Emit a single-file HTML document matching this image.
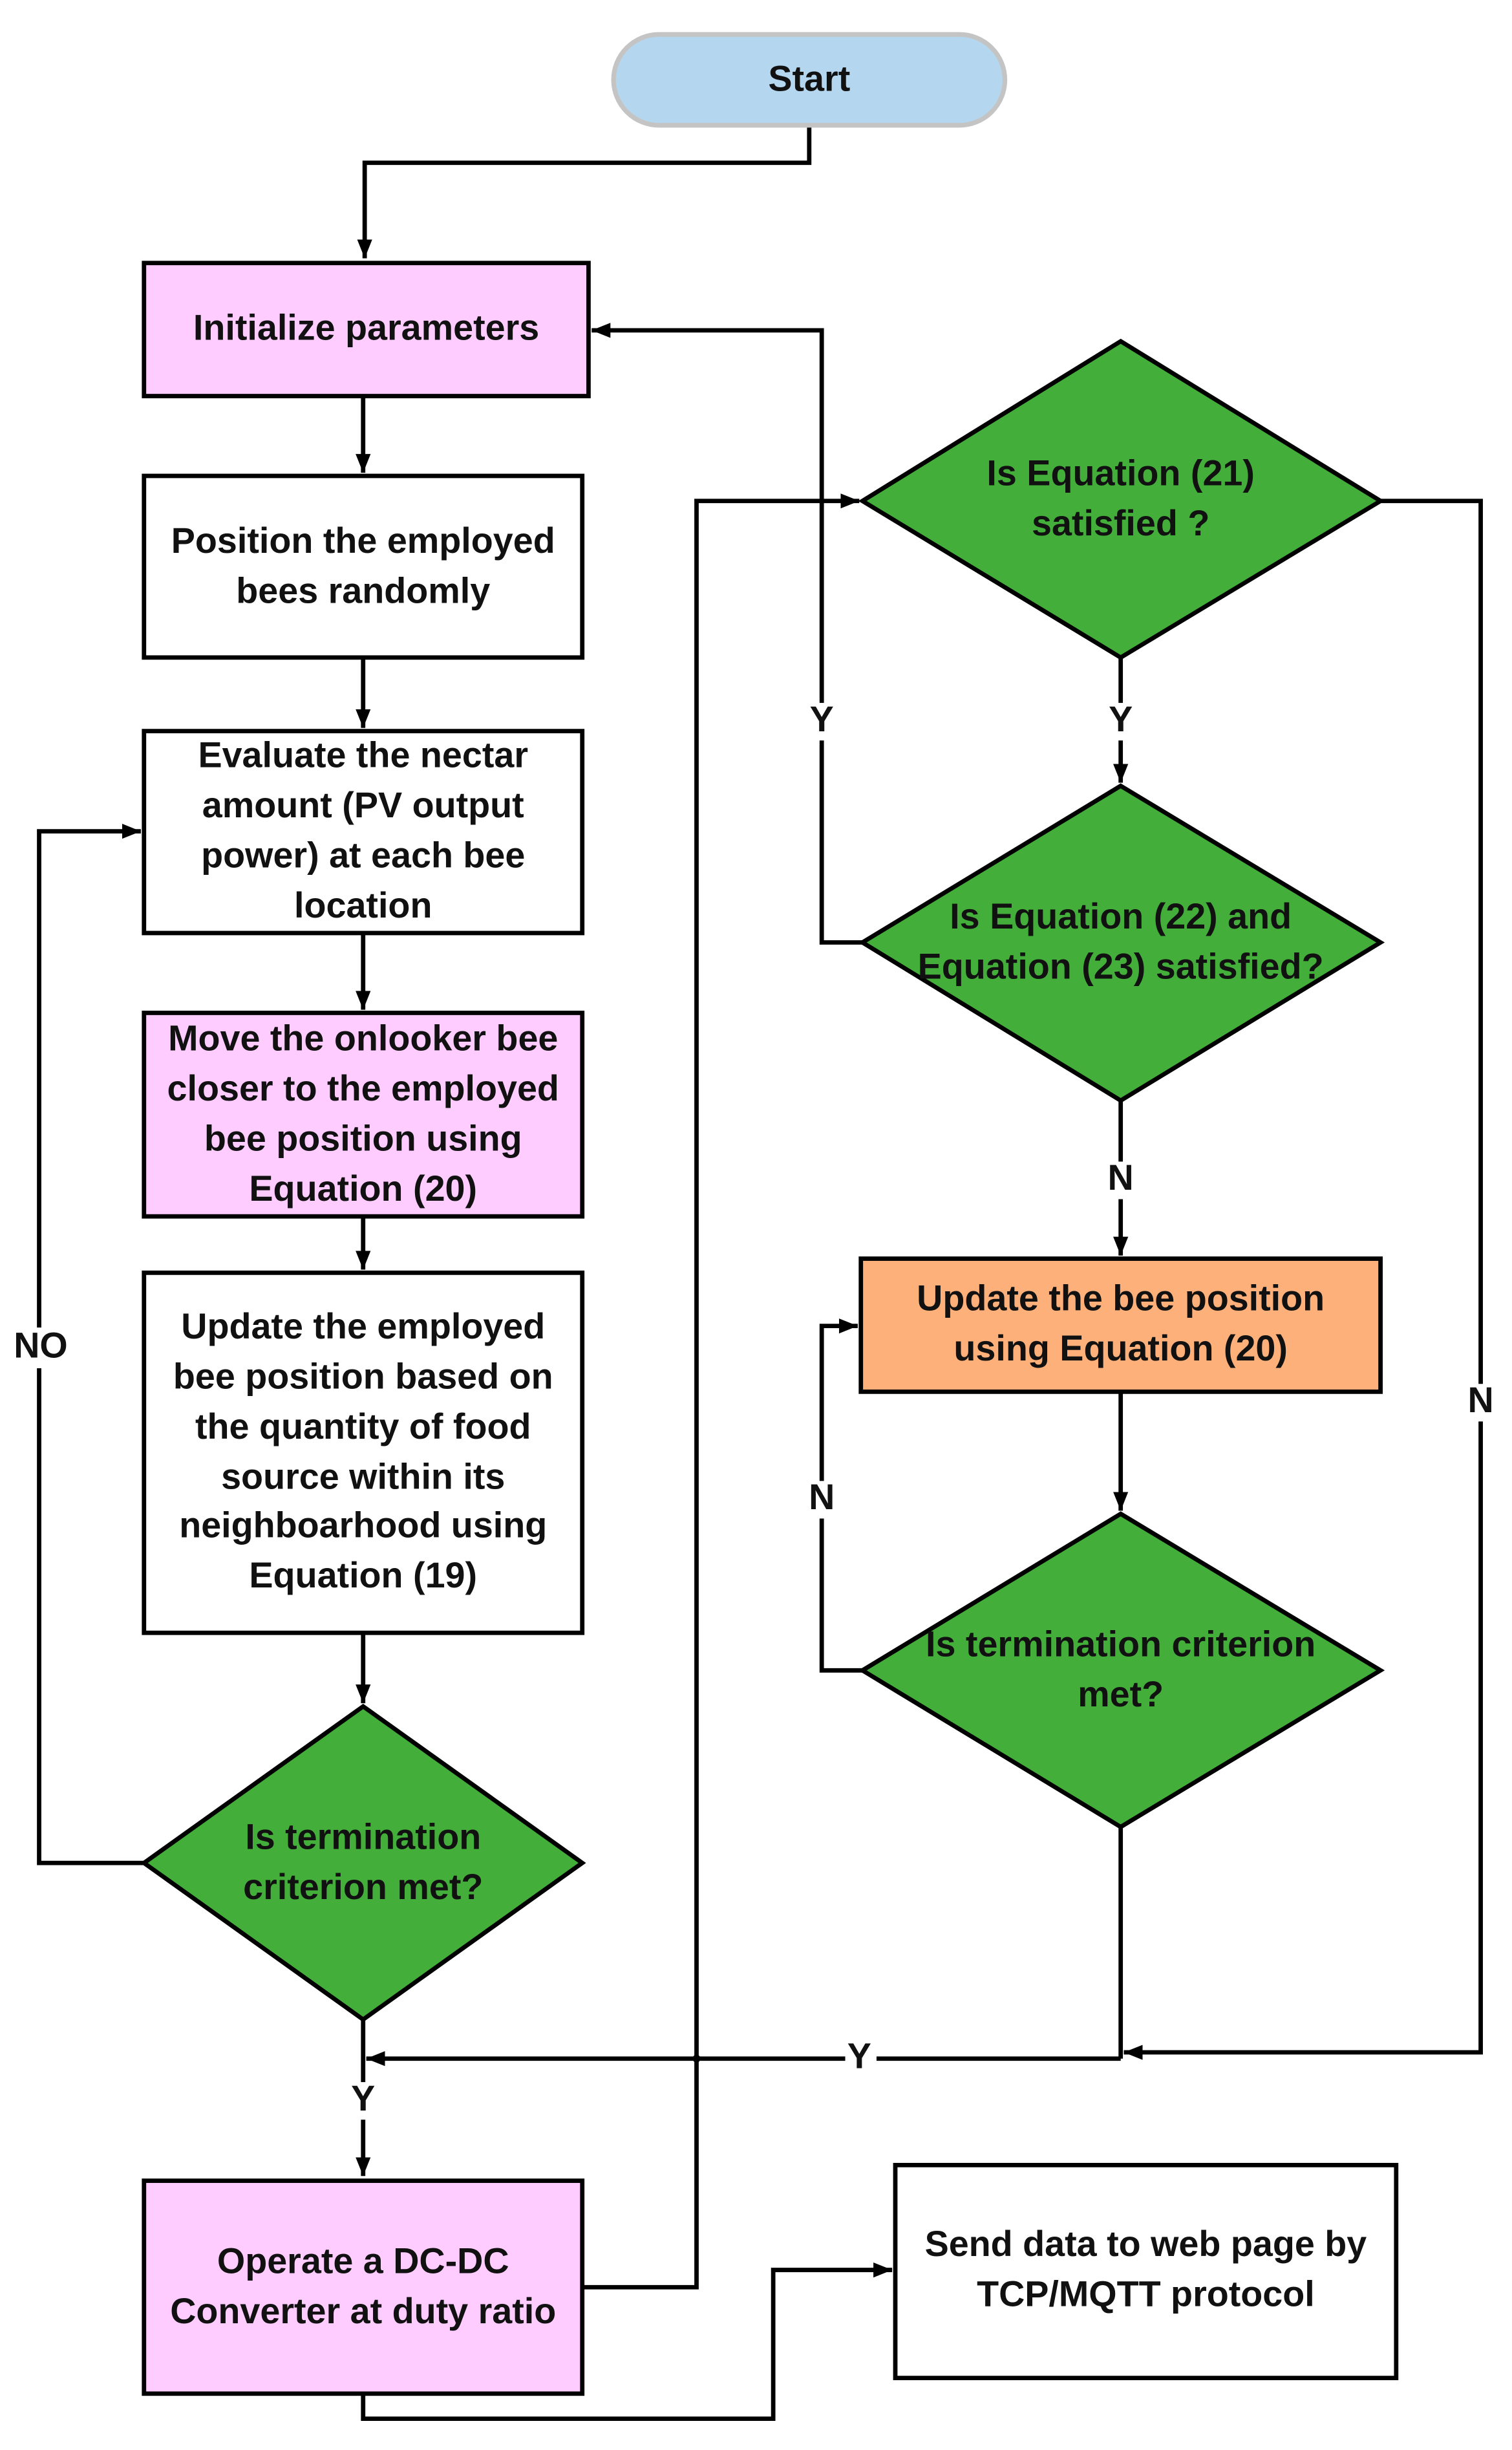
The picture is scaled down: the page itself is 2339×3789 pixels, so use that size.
<!DOCTYPE html>
<html><head><meta charset="utf-8"><style>
html,body{margin:0;padding:0;background:#fff;}
svg{display:block;}
text{font-family:"Liberation Sans",sans-serif;font-weight:bold;font-size:23px;fill:#111;text-anchor:middle;dominant-baseline:middle;}
</style></head><body>
<svg width="2339" height="3789" viewBox="0 0 966 1565" preserveAspectRatio="none" xmlns="http://www.w3.org/2000/svg">
<defs>
<marker id="b" viewBox="0 0 10 10" refX="10" refY="5" markerWidth="12" markerHeight="12" orient="auto" markerUnits="userSpaceOnUse">
<path d="M0,1 L10,5 L0,9 z" fill="#000"/></marker>
</defs>
<g fill="none" stroke="#000" stroke-width="2.8">
<polyline points="517,80 517,104 233,104 233,165" marker-end="url(#b)"/>
<polyline points="232,253 232,302" marker-end="url(#b)"/>
<polyline points="232,420 232,465" marker-end="url(#b)"/>
<polyline points="232,596 232,645" marker-end="url(#b)"/>
<polyline points="232,777 232,811" marker-end="url(#b)"/>
<polyline points="232,1043 232,1088" marker-end="url(#b)"/>
<polyline points="92,1190 25,1190 25,531 90,531" marker-end="url(#b)"/>
<polyline points="232,1290 232,1390" marker-end="url(#b)"/>
<polyline points="716,1315 234,1315" marker-end="url(#b)"/>
<polyline points="372,1461 445,1461 445,320 549,320" marker-end="url(#b)"/>
<polyline points="232,1529 232,1545 494,1545 494,1450 570,1450" marker-end="url(#b)"/>
<polyline points="716,420 716,500" marker-end="url(#b)"/>
<polyline points="551,602 525,602 525,211 378,211" marker-end="url(#b)"/>
<polyline points="716,703 716,802" marker-end="url(#b)"/>
<polyline points="716,889 716,965" marker-end="url(#b)"/>
<polyline points="551,1067 525,1067 525,847 548,847" marker-end="url(#b)"/>
<polyline points="716,1167 716,1315"/>
<polyline points="882,320 946,320 946,1311 718,1311" marker-end="url(#b)"/>
</g>
<g fill="#fff">
<rect x="8" y="848" width="36" height="26"/>
<rect x="222" y="1330" width="20" height="24"/>
<rect x="540" y="1303" width="20" height="24"/>
<rect x="515" y="449" width="20" height="24"/>
<rect x="706" y="449" width="20" height="24"/>
<rect x="706" y="742" width="20" height="24"/>
<rect x="515" y="946" width="20" height="24"/>
<rect x="936" y="884" width="20" height="24"/>
</g>
<rect x="392" y="22" width="250" height="58" rx="29" fill="#b4d7ef" stroke="#c4c4c4" stroke-width="3"/>
<g stroke="#000" stroke-width="2.8">
<rect x="92" y="168" width="284" height="85" fill="#ffccff"/>
<rect x="92" y="304" width="280" height="116" fill="#fff"/>
<rect x="92" y="467" width="280" height="129" fill="#fff"/>
<rect x="92" y="647" width="280" height="130" fill="#ffccff"/>
<rect x="92" y="813" width="280" height="230" fill="#fff"/>
<polygon points="232,1090 372,1190 232,1290 92,1190" fill="#44ae3a"/>
<rect x="92" y="1393" width="280" height="136" fill="#ffccff"/>
<rect x="572" y="1383" width="320" height="136" fill="#fff"/>
<polygon points="716,218 882,320 716,420 551,320" fill="#44ae3a"/>
<polygon points="716,502 882,602 716,703 551,602" fill="#44ae3a"/>
<rect x="550" y="804" width="332" height="85" fill="#fdb07a"/>
<polygon points="716,967 882,1067 716,1167 551,1067" fill="#44ae3a"/>
</g>
<circle cx="445" cy="1315" r="2.5" fill="#000"/>
<text x="517" y="52">Start</text>
<text x="234" y="211">Initialize parameters</text>
<text x="232" y="347">Position the employed</text>
<text x="232" y="379">bees randomly</text>
<text x="232" y="484">Evaluate the nectar</text>
<text x="232" y="516">amount (PV output</text>
<text x="232" y="548">power) at each bee</text>
<text x="232" y="580">location</text>
<text x="232" y="665">Move the onlooker bee</text>
<text x="232" y="697">closer to the employed</text>
<text x="232" y="729">bee position using</text>
<text x="232" y="761">Equation (20)</text>
<text x="232" y="849">Update the employed</text>
<text x="232" y="881">bee position based on</text>
<text x="232" y="913">the quantity of food</text>
<text x="232" y="945">source within its</text>
<text x="232" y="976">neighboarhood using</text>
<text x="232" y="1008">Equation (19)</text>
<text x="232" y="1175">Is termination</text>
<text x="232" y="1207">criterion met?</text>
<text x="232" y="1446">Operate a DC-DC</text>
<text x="232" y="1478">Converter at duty ratio</text>
<text x="26" y="861">NO</text>
<text x="232" y="1342">Y</text>
<text x="716" y="304">Is Equation (21)</text>
<text x="716" y="336">satisfied ?</text>
<text x="716" y="587">Is Equation (22) and</text>
<text x="716" y="619">Equation (23) satisfied?</text>
<text x="716" y="831">Update the bee position</text>
<text x="716" y="863">using Equation (20)</text>
<text x="716" y="1052">Is termination criterion</text>
<text x="716" y="1084">met?</text>
<text x="716" y="461">Y</text>
<text x="716" y="754">N</text>
<text x="732" y="1435">Send data to web page by</text>
<text x="732" y="1467">TCP/MQTT protocol</text>
<text x="525" y="461">Y</text>
<text x="525" y="958">N</text>
<text x="946" y="896">N</text>
<text x="549" y="1315">Y</text>
</svg>
</body></html>
